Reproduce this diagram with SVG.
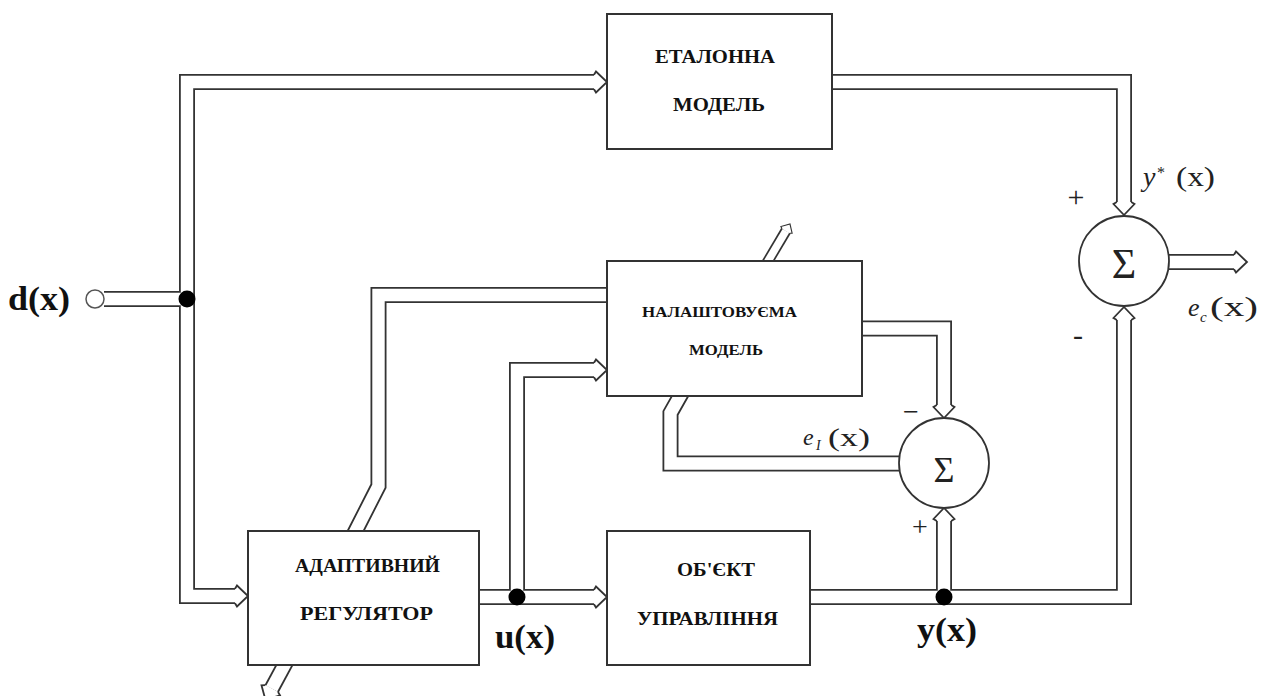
<svg xmlns="http://www.w3.org/2000/svg" xmlns:xlink="http://www.w3.org/1999/xlink" width="1271" height="696" viewBox="0 0 1271 696">
<style>
.po{fill:none;stroke:#333;stroke-width:16;stroke-linejoin:miter;stroke-miterlimit:10}
.pi{fill:none;stroke:#fff;stroke-width:12.4;stroke-linejoin:miter;stroke-miterlimit:10}
.no{fill:none;stroke:#333;stroke-width:11;stroke-linejoin:miter}
.ni{fill:none;stroke:#fff;stroke-width:7.6;stroke-linejoin:miter}
.blk{fill:#fff;stroke:#333;stroke-width:2}
.sum{fill:#fff;stroke:#333;stroke-width:1.8}
.lbl{font-family:"Liberation Serif","DejaVu Serif",serif;font-weight:bold;fill:#111}
.sig{font-family:"Liberation Serif","DejaVu Serif",serif;font-weight:bold;fill:#111;font-size:34px}
.it{font-family:"Liberation Serif","DejaVu Serif",serif;fill:#222}
.sg{font-family:"Liberation Serif","DejaVu Serif",serif;fill:#222;text-anchor:middle}
</style>
<defs>
<g id="ah">
<path d="M-13,-6.5 L-11,-10.5 L0,0 L-11,10.5 L-13,6.5 Z" fill="#fff"/>
<path d="M-13,-7.2 L-11,-10.5 L0,0 L-11,10.5 L-13,7.2" fill="none" stroke="#333" stroke-width="1.8" stroke-linejoin="miter"/>
</g>
</defs>
<rect width="1271" height="696" fill="#fff"/>
<g id="connectors">
<g>
<path class="po" d="M594 82 H187 V596 H235"/>
<path class="po" d="M104 299 H187"/>
<path class="po" d="M832 82 H1124 V202"/>
<path class="po" d="M1169 262 H1234"/>
<path class="po" d="M810 597 H1124 V320"/>
<path class="po" d="M944 597 V521"/>
<path class="po" d="M862 328.5 H944 V405"/>
<path class="po" d="M479 597 H594"/>
<path class="po" d="M517 597 V370 H594"/>
<path class="po" d="M607 295 H378.5 V486 L351 540"/>
<path class="po" d="M899 463.5 H670.5 V413 L683.5 390"/>
<path class="po" d="M289.3 656 L271.7 688.6"/>
<path class="no" d="M763.3 269 L785.9 230.9"/>
<path class="pi" d="M594 82 H187 V596 H235"/>
<path class="pi" d="M104 299 H187"/>
<path class="pi" d="M832 82 H1124 V202"/>
<path class="pi" d="M1169 262 H1234"/>
<path class="pi" d="M810 597 H1124 V320"/>
<path class="pi" d="M944 597 V521"/>
<path class="pi" d="M862 328.5 H944 V405"/>
<path class="pi" d="M479 597 H594"/>
<path class="pi" d="M517 597 V370 H594"/>
<path class="pi" d="M607 295 H378.5 V486 L351 540"/>
<path class="pi" d="M899 463.5 H670.5 V413 L683.5 390"/>
<path class="pi" d="M289.3 656 L271.7 688.6"/>
<path class="ni" d="M763.3 269 L785.9 230.9"/>
</g>
<use xlink:href="#ah" href="#ah" transform="translate(607,82)"/>
<use xlink:href="#ah" href="#ah" transform="translate(248,596)"/>
<use xlink:href="#ah" href="#ah" transform="translate(1124,215) rotate(90)"/>
<use xlink:href="#ah" href="#ah" transform="translate(1247,262)"/>
<use xlink:href="#ah" href="#ah" transform="translate(1124,307) rotate(-90)"/>
<use xlink:href="#ah" href="#ah" transform="translate(944,508) rotate(-90)"/>
<use xlink:href="#ah" href="#ah" transform="translate(944,418) rotate(90)"/>
<use xlink:href="#ah" href="#ah" transform="translate(607,597)"/>
<use xlink:href="#ah" href="#ah" transform="translate(607,370)"/>
<use xlink:href="#ah" href="#ah" transform="translate(265.5,700) rotate(118.4)"/>
<use xlink:href="#ah" href="#ah" transform="translate(790,224) rotate(-59.3) scale(0.62)"/>
<circle cx="95" cy="299" r="9" fill="#fff" stroke="#555" stroke-width="1.5"/>
<circle cx="187" cy="299" r="8.5" fill="#000"/>
<circle cx="517" cy="597" r="8.5" fill="#000"/>
<circle cx="944" cy="597" r="8.5" fill="#000"/>
</g>
<g id="etalon">
<rect class="blk" x="607" y="14" width="225" height="135"/>
<text class="lbl" x="655" y="63" font-size="19" textLength="120" lengthAdjust="spacingAndGlyphs">ЕТАЛОННА</text>
<text class="lbl" x="673" y="111" font-size="19" textLength="92" lengthAdjust="spacingAndGlyphs">МОДЕЛЬ</text>
</g>
<g id="adjustable">
<rect class="blk" x="607" y="261" width="255" height="135"/>
<text class="lbl" x="642" y="317" font-size="15" textLength="155" lengthAdjust="spacingAndGlyphs">НАЛАШТОВУЄМА</text>
<text class="lbl" x="689" y="355" font-size="15" textLength="74" lengthAdjust="spacingAndGlyphs">МОДЕЛЬ</text>
</g>
<g id="regulator">
<rect class="blk" x="248" y="531" width="231" height="134"/>
<text class="lbl" x="295" y="572" font-size="18" textLength="145" lengthAdjust="spacingAndGlyphs">АДАПТИВНИЙ</text>
<text class="lbl" x="300" y="620" font-size="18" textLength="133" lengthAdjust="spacingAndGlyphs">РЕГУЛЯТОР</text>
</g>
<g id="object">
<rect class="blk" x="607" y="531" width="203" height="134"/>
<text class="lbl" x="677" y="576" font-size="18" textLength="78" lengthAdjust="spacingAndGlyphs">ОБ'ЄКТ</text>
<text class="lbl" x="637" y="625" font-size="18" textLength="141" lengthAdjust="spacingAndGlyphs">УПРАВЛІННЯ</text>
</g>
<g id="sum1">
<circle class="sum" cx="1124" cy="261" r="45"/>
<text class="sg" x="1124" y="278" font-size="42">Σ</text>
<text class="sg" x="1076" y="207" font-size="30">+</text>
<text class="sg" x="1078" y="345" font-size="30">-</text>
</g>
<g id="sum2">
<circle class="sum" cx="944" cy="463" r="45"/>
<text class="sg" x="944" y="482" font-size="36">Σ</text>
<text class="sg" x="911" y="421" font-size="28">−</text>
<text class="sg" x="920" y="536" font-size="28">+</text>
</g>
<g id="labels">
<text class="sig" x="8" y="310" textLength="62" lengthAdjust="spacingAndGlyphs">d(x)</text>
<text class="sig" x="495" y="648" textLength="60" lengthAdjust="spacingAndGlyphs">u(x)</text>
<text class="sig" x="917" y="641" textLength="60" lengthAdjust="spacingAndGlyphs">y(x)</text>
<text class="it" x="1143" y="186" font-size="28" font-style="italic">y</text>
<text class="it" x="1157" y="178" font-size="16">*</text>
<text class="it" x="1176" y="186" font-size="28" textLength="39" lengthAdjust="spacingAndGlyphs">(x)</text>
<text class="it" x="1188" y="316" font-size="26" font-style="italic">e</text>
<text class="it" x="1200" y="322" font-size="15" font-style="italic">c</text>
<text class="it" x="1210" y="316" font-size="28" textLength="48" lengthAdjust="spacingAndGlyphs">(x)</text>
<text class="it" x="803" y="445" font-size="24" font-style="italic">e</text>
<text class="it" x="816" y="450" font-size="14" font-style="italic">I</text>
<text class="it" x="828" y="446" font-size="25" textLength="42" lengthAdjust="spacingAndGlyphs">(x)</text>
</g>
</svg>
